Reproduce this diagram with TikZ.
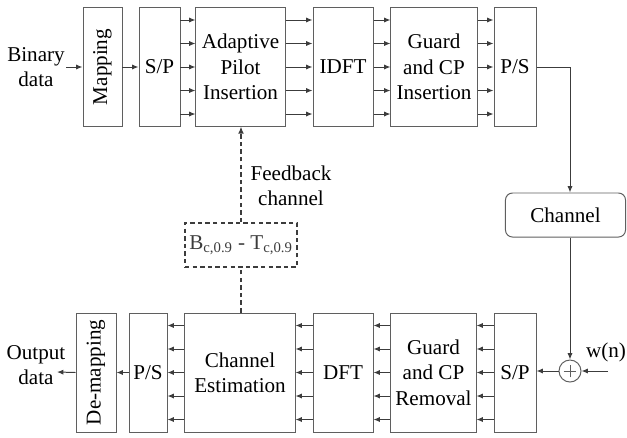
\documentclass[tikz,border=0pt]{standalone}
\usepackage{fontspec}
\setmainfont{Liberation Serif}
\usetikzlibrary{arrows.meta,positioning,calc}
\definecolor{linegray}{RGB}{60,60,60}
\definecolor{boxgray}{RGB}{95,95,95}

\begin{document}
\begin{tikzpicture}[
  x=0.025cm, y=-0.025cm,
  every node/.style={font=\fontsize{15}{18}\selectfont,align=center},
  blk/.style={draw=boxgray,line width=0.7pt,inner sep=0pt,align=center,
              minimum height=2.95cm},
  arr/.style={-{Latex[length=1.6mm,width=1.3mm]},line width=0.7pt,linegray},
  fb/.style={dashed,dash pattern=on 1.1mm off 0.8mm,line width=1.1pt,linegray},
]
\useasboundingbox (0,0) rectangle (627,437);

%% ── Transmitter (top row) ────────────────────────────────────────────────
\node[inner sep=1pt] (bin) at (36,67) {Binary\\data};
\node[blk,minimum width=0.975cm] (map) at (102.5,67) {\rotatebox{90}{Mapping}};
\node[blk,minimum width=1.025cm] (sp1) at (159.5,67) {S/P};
\node[blk,minimum width=2.225cm] (api) at (240.5,67) {Adaptive\\Pilot\\Insertion};
\node[blk,minimum width=1.5cm]   (idft) at (343,67) {IDFT};
\node[blk,minimum width=2.15cm]  (gci) at (434,67) {Guard\\and CP\\Insertion};
\node[blk,minimum width=1.05cm]  (ps1) at (515,67) {P/S};

%% ── Channel and noise ────────────────────────────────────────────────────
\node[draw=boxgray,line width=0.7pt,rounded corners=5pt,
      minimum width=3.0cm,minimum height=1.1cm] (chan) at (565.5,215) {Channel};
\node[draw=boxgray,line width=0.7pt,circle,minimum size=0.55cm,inner sep=0pt]
  (add) at (570,371) {};
\draw[line width=0.6pt,boxgray] ([yshift=-0.16cm]add.center) -- ([yshift=0.16cm]add.center)
  ([xshift=-0.16cm]add.center) -- ([xshift=0.16cm]add.center);
\node (wn) at (606,352) {w(n)};
\coordinate (wend) at (608,371);

%% ── Receiver (bottom row) ────────────────────────────────────────────────
\node[inner sep=1pt] (out) at (36,365) {Output\\data};
\coordinate (outend) at (57,372);
\node[blk,minimum width=1.0cm,minimum height=2.975cm] (demap) at (96,372.5)
  {\rotatebox{90}{De-mapping}};
\node[blk,minimum width=0.95cm,minimum height=2.975cm]  (ps2) at (148,372.5) {P/S};
\node[blk,minimum width=2.75cm,minimum height=2.975cm]  (chest) at (240,372.5)
  {Channel\\Estimation};
\node[blk,minimum width=1.5cm,minimum height=2.975cm]   (dft) at (343,372.5) {DFT};
\node[blk,minimum width=2.125cm,minimum height=2.975cm] (gcr) at (433.5,372.5)
  {Guard\\and CP\\Removal};
\node[blk,minimum width=1.05cm,minimum height=2.975cm]  (sp2) at (515,372.5) {S/P};

%% ── Feedback path ────────────────────────────────────────────────────────
\node[draw=linegray,fb,minimum width=2.8cm,minimum height=1.1cm,inner sep=0pt]
  (est) at (241,245) {B\textsubscript{c,0.9} - T\textsubscript{c,0.9}};
\node (fbl) at (291,186) {Feedback\\channel};
\draw[fb] (chest.north -| est) -- (est.south);
\draw[fb,-{Latex[length=1.8mm,width=1.5mm]}] (est.north) -- (api.south -| est);

%% ── Single connections ───────────────────────────────────────────────────
\draw[arr] (bin.east |- map.west) -- (map.west);
\draw[arr] (map.east) -- (sp1.west);
\draw[arr] (ps1.east) -| (chan.north -| add);
\draw[arr] (chan.south -| add) -- (add.north);
\draw[arr] (wend) -- (add.east);
\draw[arr] (add.west) -- (sp2.east |- add.west);
\draw[arr] (ps2.west) -- (demap.east);
\draw[arr] (demap.west) -- (outend);

%% ── Parallel branches ────────────────────────────────────────────────────
\foreach \d in {-1.175,-0.5875,0,0.5875,1.175} {
  \draw[arr] ([yshift=\d cm]sp1.east)  -- ([yshift=\d cm]api.west);
  \draw[arr] ([yshift=\d cm]api.east)  -- ([yshift=\d cm]idft.west);
  \draw[arr] ([yshift=\d cm]idft.east) -- ([yshift=\d cm]gci.west);
  \draw[arr] ([yshift=\d cm]gci.east)  -- ([yshift=\d cm]ps1.west);
  \draw[arr] ([yshift=\d cm]sp2.west)  -- ([yshift=\d cm]gcr.east);
  \draw[arr] ([yshift=\d cm]gcr.west)  -- ([yshift=\d cm]dft.east);
  \draw[arr] ([yshift=\d cm]dft.west)  -- ([yshift=\d cm]chest.east);
  \draw[arr] ([yshift=\d cm]chest.west) -- ([yshift=\d cm]ps2.east);
}

\end{tikzpicture}
\end{document}
